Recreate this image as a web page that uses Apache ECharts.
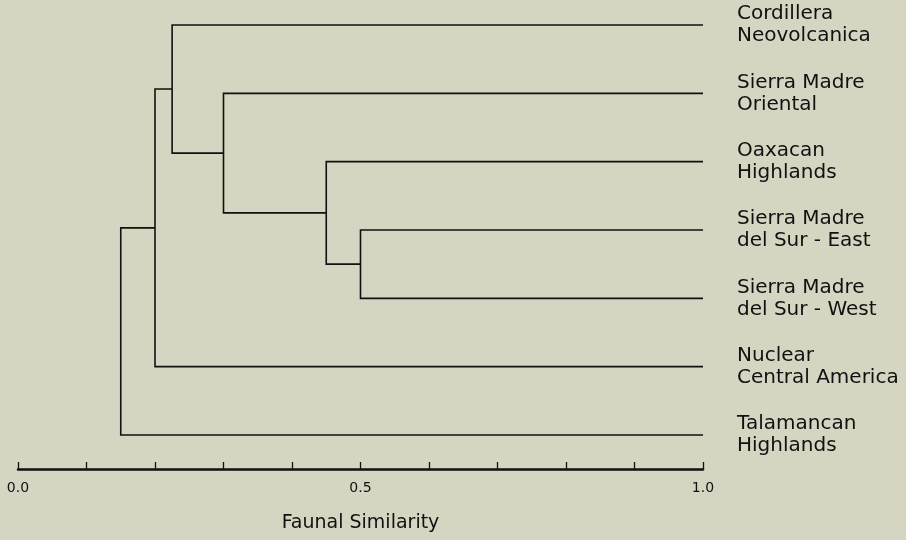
<!DOCTYPE html>
<html>
<head>
<meta charset="utf-8">
<script src="https://cdn.jsdelivr.net/npm/echarts@6/dist/echarts.min.js"></script>
<style>
  html, body { margin: 0; padding: 0; background: #d6d5c2; }
  #chart { width: 906px; height: 540px; }
</style>
</head>
<body>
<div id="chart"></div>
<script>
// Leaves (top to bottom)
const leaves = [
  'Cordillera\nNeovolcanica',
  'Sierra Madre\nOriental',
  'Oaxacan\nHighlands',
  'Sierra Madre\ndel Sur - East',
  'Sierra Madre\ndel Sur - West',
  'Nuclear\nCentral America',
  'Talamancan\nHighlands'
];
// Merges: cluster ids 0..6 are leaves, 7.. are merges in order
const mergeLeft = [3, 2, 1, 0, 10, 6];
const mergeRight = [4, 7, 8, 9, 5, 11];
const mergeSimilarity = [0.50, 0.45, 0.30, 0.225, 0.20, 0.15];
const tickLabelValues = [0.0, 0.5, 1.0];

// Node positions: leaves at similarity 1.0, merge nodes at their similarity
const nodeX = leaves.map(() => 1.0);
const nodeY = leaves.map((_, i) => i);
const segs = [];
for (let k = 0; k < mergeSimilarity.length; k++) {
  const a = mergeLeft[k], b = mergeRight[k], s = mergeSimilarity[k];
  segs.push([nodeX[a], nodeY[a], nodeX[b], nodeY[b], s]);
  nodeX.push(s);
  nodeY.push((nodeY[a] + nodeY[b]) / 2);
}

const FONT = 'DejaVu Sans, sans-serif';
const chart = echarts.init(document.getElementById('chart'));
chart.setOption({
  backgroundColor: '#d6d5c2',
  animation: false,
  grid: { left: 18, right: 203, top: 25, bottom: 105, outerBoundsMode: 'none', containLabel: false },
  xAxis: {
    type: 'value', min: 0, max: 1, interval: 0.1,
    position: 'bottom', offset: 34,
    axisLine: { show: true, onZero: false, lineStyle: { color: '#111', width: 2.5 } },
    axisTick: { show: true, inside: true, length: 7, lineStyle: { color: '#111', width: 1.3 } },
    splitLine: { show: false },
    axisLabel: {
      color: '#111', fontSize: 14, fontFamily: FONT, margin: 12,
      formatter: v => tickLabelValues.some(t => Math.abs(t - v) < 1e-6) ? v.toFixed(1) : ''
    },
    name: 'Faunal Similarity', nameLocation: 'middle', nameGap: 45,
    nameTextStyle: { color: '#111', fontSize: 19, fontFamily: FONT }
  },
  yAxis: {
    type: 'value', min: 0, max: leaves.length - 1, interval: 1, inverse: true,
    position: 'right',
    axisLine: { show: false }, axisTick: { show: false }, splitLine: { show: false },
    axisLabel: {
      margin: 34, align: 'left', color: '#111', fontSize: 20, lineHeight: 22,
      fontFamily: FONT, padding: [4, 0, 0, 0],
      formatter: v => leaves[Math.round(v)] || ''
    }
  },
  series: [{
    type: 'custom',
    clip: false,
    data: segs,
    renderItem: (params, api) => {
      const p1 = api.coord([api.value(0), api.value(1)]);
      const p2 = api.coord([api.value(2), api.value(3)]);
      const mx = api.coord([api.value(4), 0])[0];
      return {
        type: 'polyline',
        shape: { points: [[p1[0], p1[1]], [mx, p1[1]], [mx, p2[1]], [p2[0], p2[1]]] },
        style: { stroke: '#111', lineWidth: 1.6, fill: null }
      };
    }
  }]
});
</script>
</body>
</html>
